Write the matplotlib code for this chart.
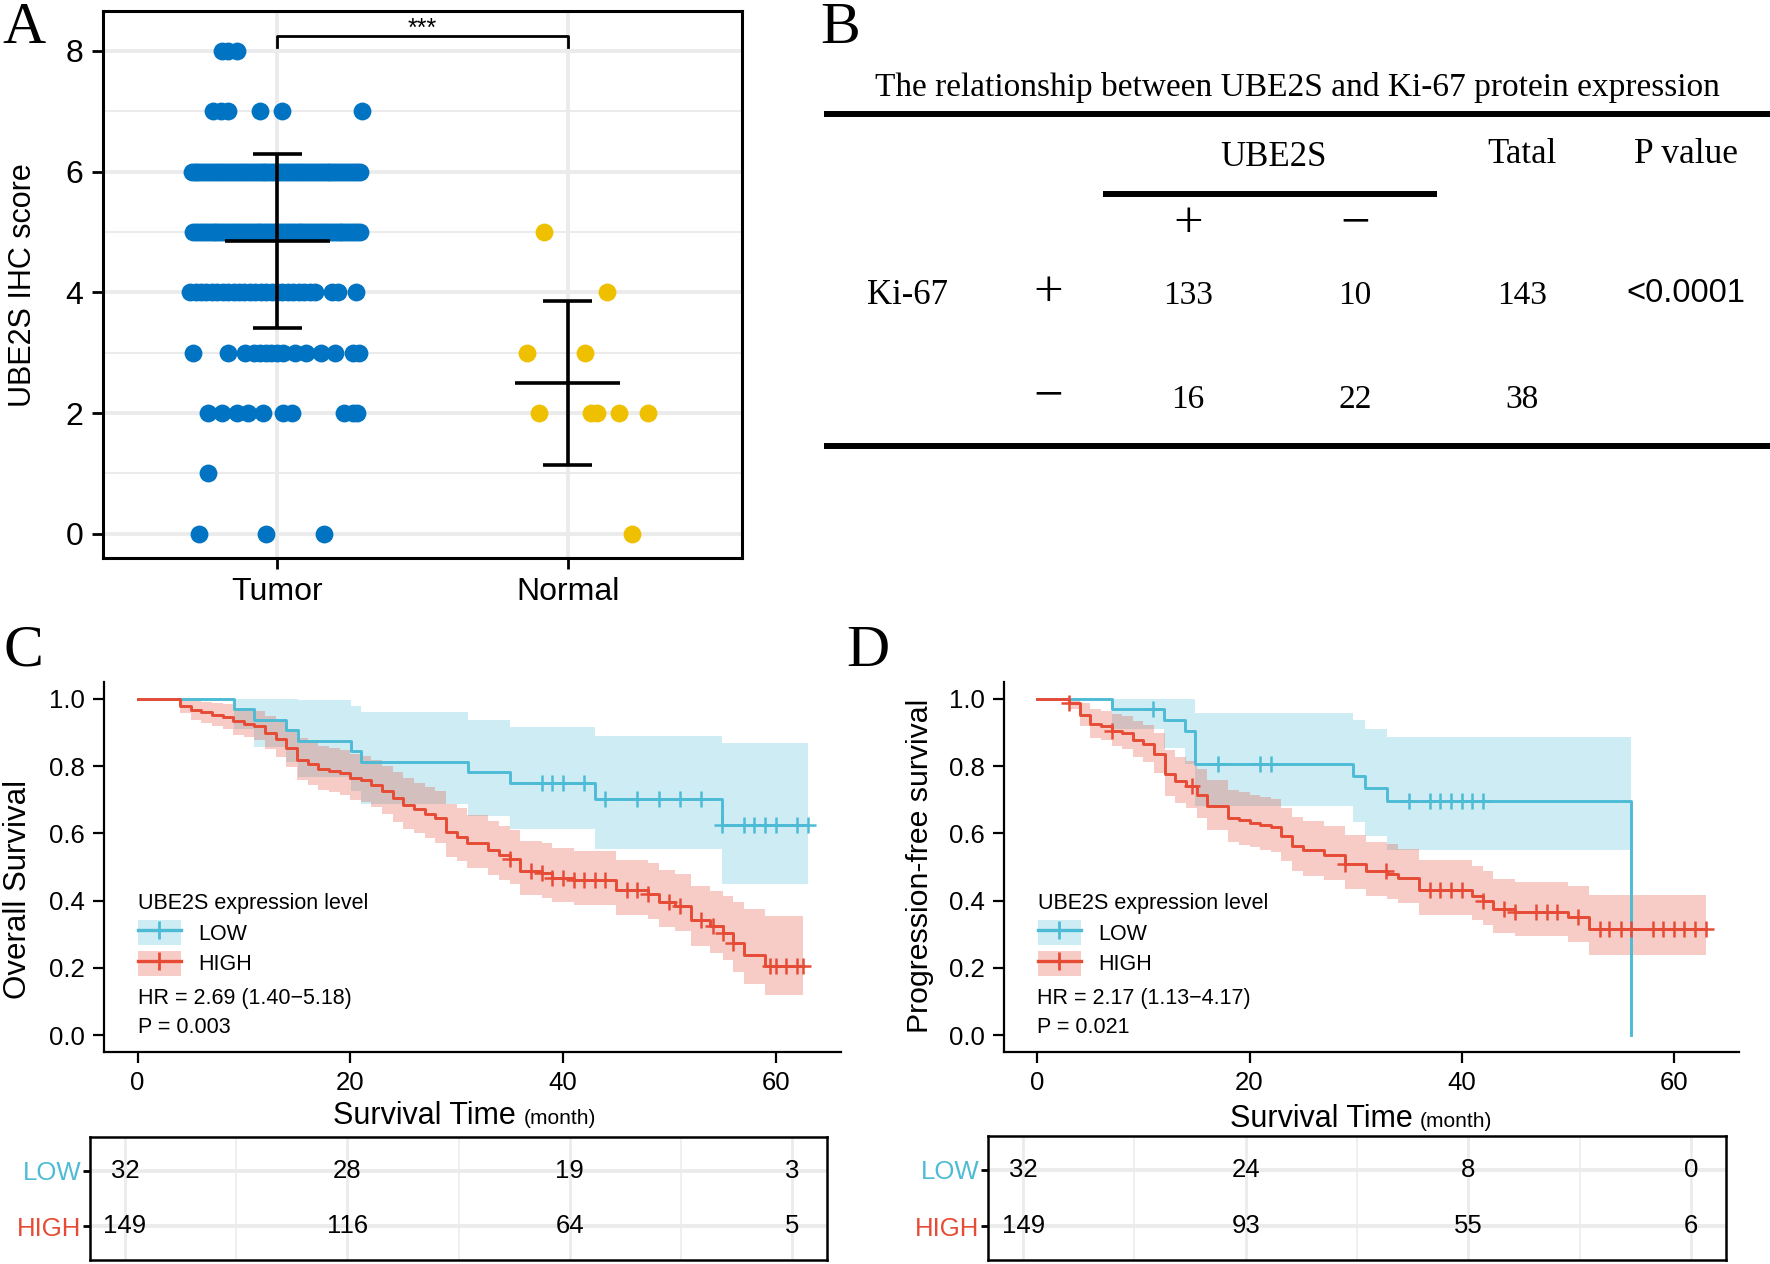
import numpy as np
import matplotlib.pyplot as plt
from matplotlib.lines import Line2D
from matplotlib.patches import Patch

SANS = ["Liberation Sans", "DejaVu Sans"]
SERIF = ["Liberation Serif", "DejaVu Serif"]
plt.rcParams["font.family"] = SANS

W, H, DPI = 1770, 1264, 100

# ---------------- data ----------------
# A: UBE2S IHC score, tumour vs normal tissue
groups = ["Tumor", "Normal"]
tumor_levels = [8, 7, 6, 5, 4, 3, 2, 1, 0]
tumor_counts = [3, 6, 58, 58, 27, 15, 10, 1, 3]
normal_scores = [5, 4, 3, 3, 2, 2, 2, 2, 2, 0]
signif = "***"

# B: UBE2S vs Ki-67 cross table
b_title = "The relationship between UBE2S and Ki-67 protein expression"
ube2s_status = ["+", "\u2212"]
ki67_status = ["+", "\u2212"]
ki67_by_ube2s = [[133, 10], [16, 22]]
b_pvalue = "<0.0001"

# C: overall survival (months; number of deaths / censored at each time)
os_low_event_t = [9.1, 11, 14, 15.1, 20.1, 21, 31.1, 35, 43, 55]
os_low_event_n = [1, 1, 1, 1, 1, 1, 1, 1, 1, 1]
os_low_cens_t = [38, 39, 40, 42, 44, 47, 49, 51, 53, 55, 57, 58, 59, 60, 62, 63]
os_low_cens_n = [2, 3, 1, 2, 1, 2, 1, 1, 1, 1, 2, 1, 1, 1, 1, 1]
os_high_event_t = [4, 5, 6, 7, 8, 9, 10, 11, 12, 13, 14, 15, 16, 17, 18, 19,
                   20, 21, 22, 23, 24, 25, 26, 27, 28, 29, 30, 31, 33, 34, 35,
                   36, 38, 39, 41, 45, 48, 49, 50.5, 52, 53.85, 55.1, 56, 57, 59]
os_high_event_n = [3, 2, 1, 1, 1, 2, 1, 1, 3, 3, 4, 5, 2, 2, 1, 1,
                   2, 1, 2, 3, 3, 3, 2, 2, 2, 6, 2, 3, 3, 2, 2,
                   5, 1, 2, 1, 3, 1, 2, 1, 3, 1, 1, 1, 1, 1]
os_high_cens_t = [35, 37, 38, 39, 40, 41, 42, 43, 44, 46, 47, 48, 50, 51, 53,
                  54.1, 55.1, 56, 59.5, 60, 61, 62, 62.6]
os_high_cens_n = [1, 2, 1, 2, 3, 3, 3, 3, 3, 3, 3, 2, 3, 3, 5,
                  2, 5, 1, 1, 1, 1, 2, 1]

# D: progression-free survival
pfs_low_event_t = [7, 11.9, 13.9, 14.9, 29.8, 30.9, 33, 56]
pfs_low_event_n = [1, 1, 1, 3, 1, 1, 1, 1]
pfs_low_cens_t = [10.9, 17, 21, 22, 35, 37, 38, 39, 40, 41, 42]
pfs_low_cens_n = [1, 1, 1, 1, 3, 3, 2, 3, 2, 2, 3]
pfs_high_event_t = [3, 4, 5, 6, 7, 8, 9, 10, 11, 12, 13, 14, 15, 16, 18, 19,
                    20, 21, 22, 23, 24, 25, 27, 29, 31, 33, 34, 36, 41, 42,
                    43, 45, 50, 52]
pfs_high_event_n = [2, 5, 4, 1, 2, 1, 3, 2, 4, 9, 3, 2, 4, 5, 5, 1,
                    1, 1, 1, 4, 4, 2, 2, 4, 3, 1, 2, 5, 2, 2,
                    3, 1, 1, 2]
pfs_high_cens_t = [3, 7, 14.6, 29, 32.9, 37, 38, 39, 40, 42, 44, 45, 47, 48,
                   49, 51, 53, 53.9, 55, 56, 58, 59, 60, 61, 62, 63]
pfs_high_cens_n = [1, 1, 1, 1, 1, 2, 2, 2, 1, 1, 4, 4, 5, 4,
                   4, 3, 2, 2, 2, 2, 2, 2, 1, 1, 2, 2]

strata = ["LOW", "HIGH"]
risk_times = [0, 20, 40, 60]
os_risk = {"LOW": [32, 28, 19, 3], "HIGH": [149, 116, 64, 5]}
pfs_risk = {"LOW": [32, 24, 8, 0], "HIGH": [149, 93, 55, 6]}
os_hr, os_p = "2.69 (1.40\u22125.18)", "0.003"
pfs_hr, pfs_p = "2.17 (1.13\u22124.17)", "0.021"

# ---------------- styles ----------------
BLUE, YELLOW = "#0073C2", "#EFC000"
COLORS = {"LOW": "#4DBBD5", "HIGH": "#E64B35"}
GRID = "#EBEBEB"


def box(l, t, r, b):
    # pixel box -> figure fraction
    return [l / W, 1 - b / H, (r - l) / W, (b - t) / H]


def km(event_t, event_n, cens_t, cens_n):
    ev_t, ev_n = np.asarray(event_t, float), np.asarray(event_n)
    ce_t, ce_n = np.asarray(cens_t, float), np.asarray(cens_n)
    n = ev_n.sum() + ce_n.sum()
    s, var = 1.0, 0.0
    x, surv, lo, hi = [0.0], [1.0], [1.0], [1.0]
    cx, cy = [], []
    for t in np.unique(np.concatenate([ev_t, ce_t])):
        d = ev_n[ev_t == t].sum()
        c = ce_n[ce_t == t].sum()
        if d and d < n:
            s *= 1 - d / n
            var += d / (n * (n - d))
            se = np.sqrt(var)
            lo.append(s * np.exp(-1.96 * se))
            hi.append(min(1.0, s * np.exp(1.96 * se)))
        else:
            if d:
                s = 0.0
            lo.append(lo[-1])
            hi.append(hi[-1])
        x.append(t)
        surv.append(s)
        if c:
            cx.append(t)
            cy.append(s)
        n -= d + c
    return np.array(x), np.array(surv), np.array(lo), np.array(hi), cx, cy


fig = plt.figure(figsize=(W / DPI, H / DPI), dpi=DPI)
canvas = fig.add_axes([0, 0, 1, 1])
canvas.set_xlim(0, W)
canvas.set_ylim(H, 0)
canvas.axis("off")

# panel letters
for letter, (lx, ly) in zip("ABCD", [(24, 43), (840, 43), (23, 666), (868, 666)]):
    canvas.text(lx, ly, letter, family=SERIF, fontsize=43, ha="center", va="baseline")

# ---------------- A ----------------
axA = fig.add_axes(box(103, 11, 742, 558))
tumor_scores = np.repeat(tumor_levels, tumor_counts)
# horizontal jitter as it appears in the figure
tumor_jitter = [
    [-0.19, -0.17, -0.14],
    [-0.22, -0.195, -0.17, -0.06, 0.015, 0.29],
    list(np.linspace(-0.295, 0.285, tumor_counts[2])),
    list(np.linspace(-0.29, 0.285, tumor_counts[3])),
    list(np.linspace(-0.30, 0.13, tumor_counts[4] - 3)) + [0.19, 0.21, 0.27],
    [-0.29, -0.17, -0.11, -0.08, -0.06, -0.04, -0.02, 0.0, 0.02, 0.06, 0.10,
     0.15, 0.20, 0.26, 0.28],
    [-0.24, -0.19, -0.14, -0.10, -0.05, 0.02, 0.05, 0.23, 0.26, 0.275],
    [-0.24],
    [-0.27, -0.04, 0.16],
]
normal_jitter = [-0.08, 0.135, -0.14, 0.06, -0.10, 0.08, 0.10, 0.175, 0.275, 0.22]
tumor_x = 1 + np.concatenate([np.array(j) for j in tumor_jitter])
axA.scatter(tumor_x, tumor_scores, s=165, color=BLUE, lw=0, zorder=3)
axA.scatter(2 + np.array(normal_jitter), normal_scores, s=165, color=YELLOW, lw=0, zorder=3)

for pos, vals in [(1, tumor_scores), (2, normal_scores)]:
    m, sd = np.mean(vals), np.std(vals, ddof=1)
    axA.hlines(m, pos - 0.18, pos + 0.18, color="black", lw=2.6, zorder=4)
    axA.vlines(pos, m - sd, m + sd, color="black", lw=2.6, zorder=4)
    axA.hlines([m - sd, m + sd], pos - 0.085, pos + 0.085, color="black", lw=2.6, zorder=4)

axA.plot([1, 1, 2, 2], [8.06, 8.24, 8.24, 8.06], color="black", lw=2, zorder=4)
axA.text(1.5, 8.36, signif, ha="center", va="center", fontsize=18)

axA.set_xlim(0.4, 2.6)
axA.set_ylim(-0.4, 8.66)
axA.set_xticks([1, 2], groups)
axA.set_yticks([0, 2, 4, 6, 8])
axA.set_yticks([1, 3, 5, 7], minor=True)
axA.set_axisbelow(True)
axA.grid(which="major", color=GRID, lw=2.8)
axA.grid(which="minor", axis="y", color=GRID, lw=1.4)
axA.tick_params(which="major", labelsize=23, length=8, width=2, pad=6)
axA.tick_params(which="minor", length=0)
for sp in axA.spines.values():
    sp.set_linewidth(2.2)
canvas.text(23, 285, "UBE2S IHC score", rotation=90, ha="center", va="center", fontsize=22)

# ---------------- B ----------------
canvas.text(1297, 96, b_title, family=SERIF, fontsize=24, ha="center", va="baseline")
for y in (114, 446):
    canvas.plot([824, W], [y, y], color="black", lw=4.3, solid_capstyle="butt")
canvas.plot([1103, 1437], [194, 194], color="black", lw=4.3, solid_capstyle="butt")
col_x = [1188, 1355]
total_x, p_x = 1522, 1686
row_y = [293, 397]
canvas.text(1273, 166, "UBE2S", family=SERIF, fontsize=25, ha="center", va="baseline")
canvas.text(total_x, 163, "Tatal", family=SERIF, fontsize=25, ha="center", va="baseline")
canvas.text(p_x, 163, "P value", family=SERIF, fontsize=25.5, ha="center", va="baseline")
for cx, lab in zip(col_x, ube2s_status):
    canvas.text(cx, 224 + 13, lab, family=SERIF, fontsize=38, ha="center", va="baseline")
canvas.text(908, row_y[0] + 11, "Ki-67", family=SERIF, fontsize=25, ha="center", va="baseline")
for ry, lab, vals in zip(row_y, ki67_status, ki67_by_ube2s):
    canvas.text(1048, ry + 13, lab, family=SERIF, fontsize=38, ha="center", va="baseline")
    for cx, v in zip(col_x, vals):
        canvas.text(cx, ry + 11, str(v), family=SERIF, fontsize=24, ha="center", va="baseline")
    canvas.text(total_x, ry + 11, str(sum(vals)), family=SERIF, fontsize=24,
                ha="center", va="baseline")
canvas.text(p_x, row_y[0] + 9, b_pvalue, fontsize=23.5, ha="center", va="baseline")


# ---------------- C / D ----------------
def km_panel(ax, tab, curves, hr, p, risk):
    for name in strata:
        x, s, lo, hi, cx, cy = curves[name]
        ax.fill_between(x, lo, hi, step="post", color=COLORS[name], alpha=0.28, lw=0)
    for name in strata:
        x, s, lo, hi, cx, cy = curves[name]
        ax.step(x, s, where="post", color=COLORS[name], lw=2.1)
        ax.plot(cx, cy, "+", color=COLORS[name], ms=11, mew=1.8)
    ax.set_xlim(-3.15, 66.15)
    ax.set_ylim(-0.05, 1.05)
    ax.set_xticks(risk_times)
    ax.set_yticks(np.arange(0, 1.01, 0.2), [f"{v:.1f}" for v in np.arange(0, 1.01, 0.2)])
    ax.tick_params(labelsize=18.5, length=8, width=1.6, pad=6)
    for side in ("top", "right"):
        ax.spines[side].set_visible(False)
    for side in ("left", "bottom"):
        ax.spines[side].set_linewidth(1.6)

    handles = [(Patch(facecolor=COLORS[n], alpha=0.28, edgecolor="none"),
                Line2D([], [], color=COLORS[n], lw=2.4, marker="+", ms=13, mew=2))
               for n in strata]
    ax.legend(handles, strata, title="UBE2S expression level", loc="upper left",
              bbox_to_anchor=(0.046, 0.43), frameon=False, fontsize=15.5,
              title_fontsize=15.5, alignment="left", borderpad=0, borderaxespad=0,
              handlelength=2.0, handleheight=1.4, handletextpad=0.8, labelspacing=0.28)
    ax.text(0, 0.11, f"HR = {hr}", fontsize=15.5, va="center")
    ax.text(0, 0.024, f"P = {p}", fontsize=15.5, va="center")

    tab.set_xlim(-3.15, 63.15)
    tab.set_ylim(0.4, 2.6)
    tab.set_xticks(risk_times)
    tab.set_xticks([10, 30, 50], minor=True)
    tab.set_yticks([2, 1], strata)
    tab.tick_params(axis="x", which="both", length=0, labelbottom=False)
    tab.tick_params(axis="y", labelsize=18.5, length=5, width=2, pad=1)
    for lab, name in zip(tab.get_yticklabels(), strata):
        lab.set_color(COLORS[name])
    tab.set_axisbelow(True)
    tab.grid(axis="x", which="major", color=GRID, lw=2.0)
    tab.grid(axis="x", which="minor", color=GRID, lw=1.1)
    tab.grid(axis="y", which="major", color=GRID, lw=2.8)
    for sp in tab.spines.values():
        sp.set_linewidth(1.8)
    for row, name in zip([2, 1], strata):
        for t, v in zip(risk_times, risk[name]):
            tab.text(t, row, str(v), ha="center", va="center", fontsize=18.5)


os_curves = {"LOW": km(os_low_event_t, os_low_event_n, os_low_cens_t, os_low_cens_n),
             "HIGH": km(os_high_event_t, os_high_event_n, os_high_cens_t, os_high_cens_n)}
pfs_curves = {"LOW": km(pfs_low_event_t, pfs_low_event_n, pfs_low_cens_t, pfs_low_cens_n),
              "HIGH": km(pfs_high_event_t, pfs_high_event_n, pfs_high_cens_t, pfs_high_cens_n)}

axC = fig.add_axes(box(104, 682, 841, 1052))
tabC = fig.add_axes(box(90, 1137, 827, 1260))
km_panel(axC, tabC, os_curves, os_hr, os_p, os_risk)
canvas.text(18, 889, "Overall Survival", rotation=90, ha="center", va="center", fontsize=22.5)
canvas.text(516, 1124, "Survival Time", ha="right", va="baseline", fontsize=22)
canvas.text(524, 1124, "(month)", ha="left", va="baseline", fontsize=15)

axD = fig.add_axes(box(1004, 682, 1739, 1052))
tabD = fig.add_axes(box(988, 1136, 1726, 1260))
km_panel(axD, tabD, pfs_curves, pfs_hr, pfs_p, pfs_risk)
canvas.text(920, 866, "Progression-free survival", rotation=90, ha="center", va="center",
            fontsize=21.8)
canvas.text(1413, 1127, "Survival Time", ha="right", va="baseline", fontsize=22)
canvas.text(1420, 1127, "(month)", ha="left", va="baseline", fontsize=15)

fig.savefig("out.png", dpi=DPI)
